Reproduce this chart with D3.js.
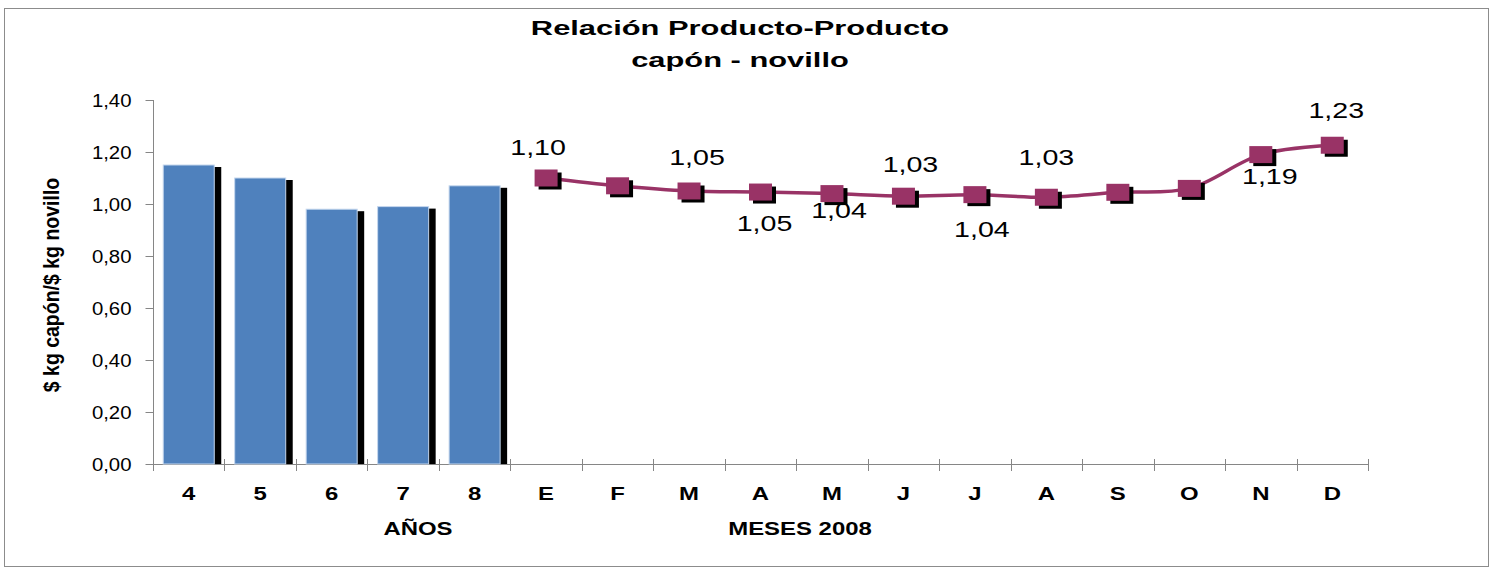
<!DOCTYPE html>
<html>
<head>
<meta charset="utf-8">
<script src="https://cdn.jsdelivr.net/npm/d3@7"></script>
<style>
  html, body { margin: 0; padding: 0; background: #fff; }
  svg { display: block; font-family: "Liberation Sans", Arial, sans-serif; }
</style>
</head>
<body>
<svg id="chart" width="1493" height="572"></svg>
<script>
// chart data
const title = ["Relación Producto-Producto", "capón - novillo"];
const yLabel = "$ kg capón/$ kg novillo";
const years = ["4", "5", "6", "7", "8"];
const yearValues = [1.15, 1.10, 0.98, 0.99, 1.07];
const months = ["E", "F", "M", "A", "M", "J", "J", "A", "S", "O", "N", "D"];
const monthValues = [1.10, 1.07, 1.05, 1.046, 1.04, 1.03, 1.036, 1.026, 1.045, 1.06, 1.19, 1.226];
// which month points carry a value label, and on which side
const monthLabelSide = ["above", null, "above", "below", "below", "above", "below", "above", null, null, "below", "above"];
const yTicks = [0, 0.2, 0.4, 0.6, 0.8, 1.0, 1.2, 1.4];
const groupLabels = ["AÑOS", "MESES 2008"];

const svg = d3.select("#chart");
const locale = d3.formatLocale({ decimal: ",", thousands: ".", grouping: [3], currency: ["$", ""] });
const fmt = locale.format(".2f");

const margin = { left: 153, right: 1368, top: 100, bottom: 464 };

const categories = d3.range(years.length + months.length);
const catLabels = years.concat(months);

const padIn = 0.286;
const x = d3.scaleBand()
  .domain(categories)
  .range([margin.left, margin.right])
  .paddingInner(padIn)
  .paddingOuter(padIn / 2);

const y = d3.scaleLinear()
  .domain([0, 1.4])
  .range([margin.bottom, margin.top]);

const axisColor = "#868686";
const barColor = "#4f81bd";
const lineColor = "#993366";

// stretched text helper (the original picture is widened horizontally)
function placeText(sel, px, py, sx) {
  sel.attr("transform", `translate(${px},${py}) scale(${sx},1)`);
}

// outer frame
svg.append("rect")
  .attr("x", 4.5).attr("y", 8.5)
  .attr("width", 1484).attr("height", 558)
  .attr("fill", "#fff")
  .attr("stroke", "#8c8c8c")
  .attr("stroke-width", 1);

// title
svg.append("g")
  .selectAll("text")
  .data(title)
  .join("text")
  .attr("text-anchor", "middle")
  .attr("font-weight", "bold")
  .attr("font-size", "21px")
  .attr("fill", "#000")
  .text(d => d)
  .each(function (d, i) { placeText(d3.select(this), 740, 35 + i * 32, 1.47); });

// y axis
const yAxis = svg.append("g")
  .attr("transform", `translate(${margin.left + 0.5},0)`)
  .call(d3.axisLeft(y).tickValues(yTicks).tickSize(8).tickFormat(fmt));
yAxis.select(".domain").attr("stroke", axisColor).attr("d", `M0,${margin.top}V${margin.bottom}`);
yAxis.selectAll(".tick line").attr("stroke", axisColor);
yAxis.selectAll(".tick text")
  .attr("font-size", "18.5px")
  .attr("font-family", "Liberation Sans, Arial, sans-serif")
  .attr("fill", "#000")
  .attr("x", null).attr("dy", "0.36em")
  .attr("transform", "translate(-22,0) scale(1.1,1)");

// y axis title
svg.append("text")
  .attr("text-anchor", "middle")
  .attr("font-weight", "bold")
  .attr("font-size", "19.5px")
  .attr("fill", "#000")
  .attr("transform", "translate(59,285) scale(1.15,1) rotate(-90)")
  .text(yLabel);

// x axis line and boundary ticks
const xAxis = svg.append("g");
xAxis.append("line")
  .attr("x1", margin.left).attr("x2", margin.right + 0.5)
  .attr("y1", margin.bottom + 0.5).attr("y2", margin.bottom + 0.5)
  .attr("stroke", axisColor);
const boundaries = categories.map(c => x(c) - (x.step() - x.bandwidth()) / 2)
  .concat([margin.right]);
xAxis.selectAll("line.tick")
  .data(boundaries)
  .join("line")
  .attr("class", "tick")
  .attr("x1", d => Math.round(d) + 0.5).attr("x2", d => Math.round(d) + 0.5)
  .attr("y1", margin.bottom - 5).attr("y2", margin.bottom + 7)
  .attr("stroke", axisColor);

// category labels
xAxis.selectAll("text.cat")
  .data(categories)
  .join("text")
  .attr("class", "cat")
  .attr("text-anchor", "middle")
  .attr("font-weight", "bold")
  .attr("font-size", "18px")
  .attr("fill", "#000")
  .text(d => catLabels[d])
  .each(function (d) { placeText(d3.select(this), x(d) + x.bandwidth() / 2, 500, 1.33); });

// group labels under the axis
const groupCenters = [418, 800];
xAxis.selectAll("text.group")
  .data(groupLabels)
  .join("text")
  .attr("class", "group")
  .attr("text-anchor", "middle")
  .attr("font-weight", "bold")
  .attr("font-size", "18px")
  .attr("fill", "#000")
  .text(d => d)
  .each(function (d, i) { placeText(d3.select(this), groupCenters[i], 535, 1.33); });

// bars with shadow
const bars = svg.append("g");
bars.selectAll("rect.shadow")
  .data(yearValues)
  .join("rect")
  .attr("class", "shadow")
  .attr("x", (d, i) => x(i) + 7)
  .attr("y", d => y(d) + 2)
  .attr("width", x.bandwidth())
  .attr("height", d => y(0) - y(d) - 2)
  .attr("fill", "#000");
bars.selectAll("rect.bar")
  .data(yearValues)
  .join("rect")
  .attr("class", "bar")
  .attr("x", (d, i) => x(i))
  .attr("y", d => y(d))
  .attr("width", x.bandwidth())
  .attr("height", d => y(0) - y(d))
  .attr("fill", barColor)
  .attr("stroke", "#c5d7ee")
  .attr("stroke-width", 1);

// monthly line
const monthPoints = monthValues.map((v, i) => ({
  cx: x(years.length + i) + x.bandwidth() / 2,
  cy: y(v),
  v,
  side: monthLabelSide[i]
}));

const line = d3.line()
  .x(d => d.cx)
  .y(d => d.cy)
  .curve(d3.curveCatmullRom.alpha(0.5));

svg.append("path")
  .datum(monthPoints)
  .attr("d", line)
  .attr("fill", "none")
  .attr("stroke", lineColor)
  .attr("stroke-width", 3.5);

const markerW = 23, markerH = 17;
const markers = svg.append("g");
markers.selectAll("rect.mshadow")
  .data(monthPoints)
  .join("rect")
  .attr("class", "mshadow")
  .attr("x", d => d.cx - markerW / 2 + 4)
  .attr("y", d => d.cy - markerH / 2 + 3)
  .attr("width", markerW).attr("height", markerH)
  .attr("fill", "#000");
markers.selectAll("rect.marker")
  .data(monthPoints)
  .join("rect")
  .attr("class", "marker")
  .attr("x", d => d.cx - markerW / 2)
  .attr("y", d => d.cy - markerH / 2)
  .attr("width", markerW).attr("height", markerH)
  .attr("fill", lineColor);

// value labels, nudged the way the original places them
const labelNudge = [
  [-8, -23], null, [8, -26], [4, 39], [7, 24], [7, -24],
  [7, 42], [0, -32], null, null, [9, 29], [4, -27]
];
svg.append("g")
  .selectAll("text")
  .data(monthPoints.map((p, i) => ({ ...p, nudge: labelNudge[i] })).filter(p => p.side))
  .join("text")
  .attr("text-anchor", "middle")
  .attr("font-size", "22px")
  .attr("fill", "#000")
  .text(d => fmt(d.v))
  .each(function (d) { placeText(d3.select(this), d.cx + d.nudge[0], d.cy + d.nudge[1], 1.3); });
</script>
</body>
</html>
